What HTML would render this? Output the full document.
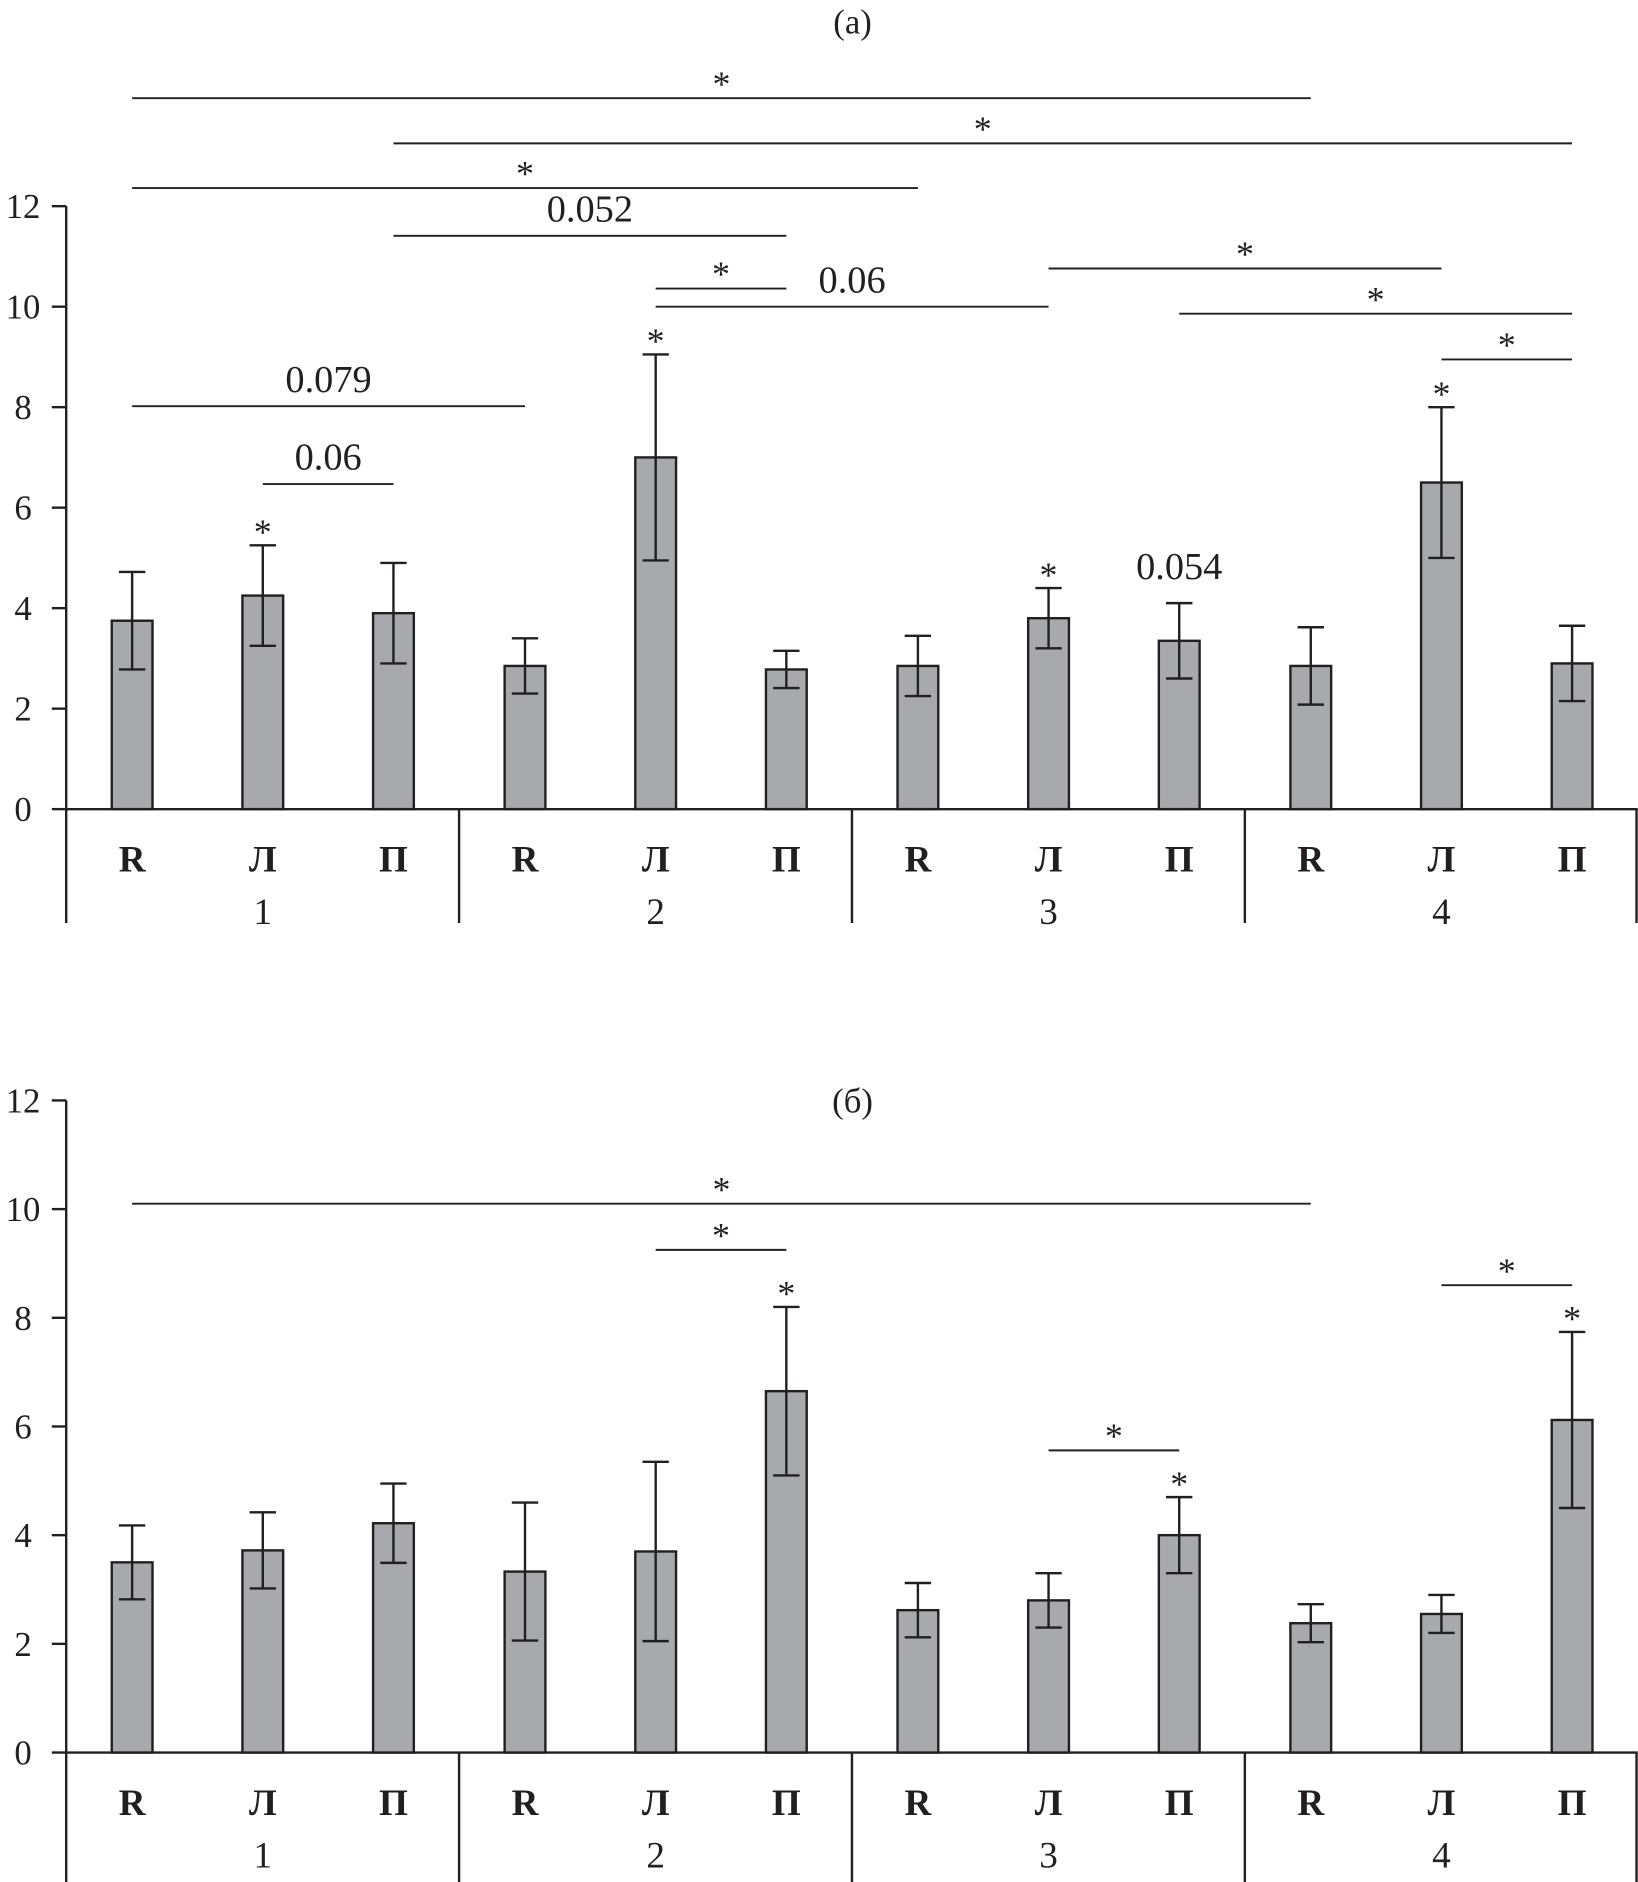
<!DOCTYPE html>
<html><head><meta charset="utf-8"><style>
html,body{margin:0;padding:0;background:#fff}
svg{display:block}
text{font-family:"Liberation Serif","DejaVu Serif",serif;fill:#231f20}
</style></head><body>
<svg id="chart" width="1638" height="1882" viewBox="0 0 1366 1570" xmlns="http://www.w3.org/2000/svg"></svg>
<script>
const categories = ["R","Л","П","R","Л","П","R","Л","П","R","Л","П"];
const groups = ["1","2","3","4"];
const ticks = [0,2,4,6,8,10,12];
const valuesA = [3.75,4.25,3.9,2.85,7.0,2.78,2.85,3.8,3.35,2.85,6.5,2.9];
const errorsA = [0.97,1.0,1.0,0.55,2.05,0.37,0.6,0.6,0.75,0.77,1.5,0.75];
const valuesB = [3.5,3.72,4.22,3.33,3.7,6.65,2.62,2.8,4.0,2.38,2.55,6.12];
const errorsB = [0.68,0.7,0.73,1.27,1.65,1.55,0.5,0.5,0.7,0.35,0.35,1.62];
// brackets: [fromIndex, toIndex, level(value units), label]
const bracketsA = [[0,9,14.15,"*"],[2,11,13.25,"*"],[0,6,12.36,"*"],[2,5,11.41,"0.052"],[4,5,10.36,"*"],[4,7,10.0,"0.06"],[7,10,10.76,"*"],[8,11,9.86,"*"],[10,11,8.95,"*"],[0,3,8.02,"0.079"],[1,2,6.47,"0.06"]];
const marksA = [[1,"*"],[4,"*"],[7,"*"],[8,"0.054"],[10,"*"]];
const bracketsB = [[0,9,10.1,"*"],[4,5,9.25,"*"],[10,11,8.6,"*"],[7,8,5.56,"*"]];
const marksB = [[5,"*"],[8,"*"],[11,"*"]];

const svg = document.getElementById('chart');
const NS = "http://www.w3.org/2000/svg";
function el(tag, attrs, parent){const e=document.createElementNS(NS,tag);for(const k in attrs)e.setAttribute(k,attrs[k]);(parent||svg).appendChild(e);return e;}
const axisX = 55, plotRight = 1366, groupW = (plotRight-axisX)/4;
function xScale(i){return axisX + groupW*Math.floor(i/3) + 55 + (i%3)*109;}
function txt(x,y,s,size,name,extra){const t=el('text',Object.assign({x:x,y:y,'text-anchor':'middle','font-size':size},extra||{}));t.textContent=s;


return t;}

function panel(p){
  const g=el('g',{});
  
  
  const y=v=>p.y0-(p.y0-p.y12)*v/12;
  txt(711,p.titleY,p.title,29,'panel-title',{});
  const ax=el('line',{x1:axisX,y1:p.y12,x2:axisX,y2:p.sepBottom,stroke:'#231f20','stroke-width':2},g);
  
  
  ticks.forEach(t=>{
    const tl=el('line',{x1:axisX-12,y1:y(t),x2:axisX,y2:y(t),stroke:'#231f20','stroke-width':2},g);
    
    
    txt(19,y(t)+10,String(t),29,'y-tick-label',{});
  });
  const xa=el('line',{x1:axisX,y1:p.y0,x2:plotRight,y2:p.y0,stroke:'#231f20','stroke-width':2},g);
  
  
  for(let k=1;k<=4;k++){
    const sx=axisX+groupW*k-(k==4?1:0);
    const s=el('line',{x1:sx,y1:p.y0,x2:sx,y2:p.sepBottom,stroke:'#231f20','stroke-width':2},g);
    
    
  }
  groups.forEach((gname,k)=>txt(xScale(k*3+1),p.y0+96,gname,31,'group-label',{}));
  categories.forEach((c,i)=>txt(xScale(i),p.y0+52,c,31,'category-label',{'font-weight':'bold'}));
  p.values.forEach((v,i)=>{
    const cx=xScale(i);
    const r=el('rect',{x:cx-17,y:y(v),width:34,height:p.y0-y(v),fill:'#a7a9ac',stroke:'#231f20','stroke-width':2},g);
    
    
    const e=p.errors[i];
    const eb=el('path',{d:`M${cx},${y(v-e)}V${y(v+e)}M${cx-11},${y(v+e)}H${cx+11}M${cx-11},${y(v-e)}H${cx+11}`,stroke:'#231f20','stroke-width':2,fill:'none'},g);
    
    
  });
  p.brackets.forEach(b=>{
    const x1=xScale(b[0]), x2=xScale(b[1]), yy=y(b[2]);
    const l=el('line',{x1:x1,y1:yy,x2:x2,y2:yy,stroke:'#231f20','stroke-width':1.6},g);
    
    
    if(b[3]==="*") txt((x1+x2)/2,yy-2,"*",30,'significance-star',{});
    else txt((x1+x2)/2,yy-12,b[3],32,'p-value-label',{});
  });
  p.marks.forEach(m=>{
    const i=m[0], top=y(p.values[i]+p.errors[i]);
    if(m[1]==="*") txt(xScale(i),top-1,"*",30,'significance-star',{});
    else txt(xScale(i),top-20,m[1],32,'p-value-label',{});
  });
}
panel({name:'panel-a',title:'(a)',titleY:28,y0:675,y12:172,sepBottom:770,values:valuesA,errors:errorsA,brackets:bracketsA,marks:marksA});
panel({name:'panel-b',title:'(б)',titleY:928,y0:1462,y12:918,sepBottom:1585,values:valuesB,errors:errorsB,brackets:bracketsB,marks:marksB});
</script>
</body></html>
